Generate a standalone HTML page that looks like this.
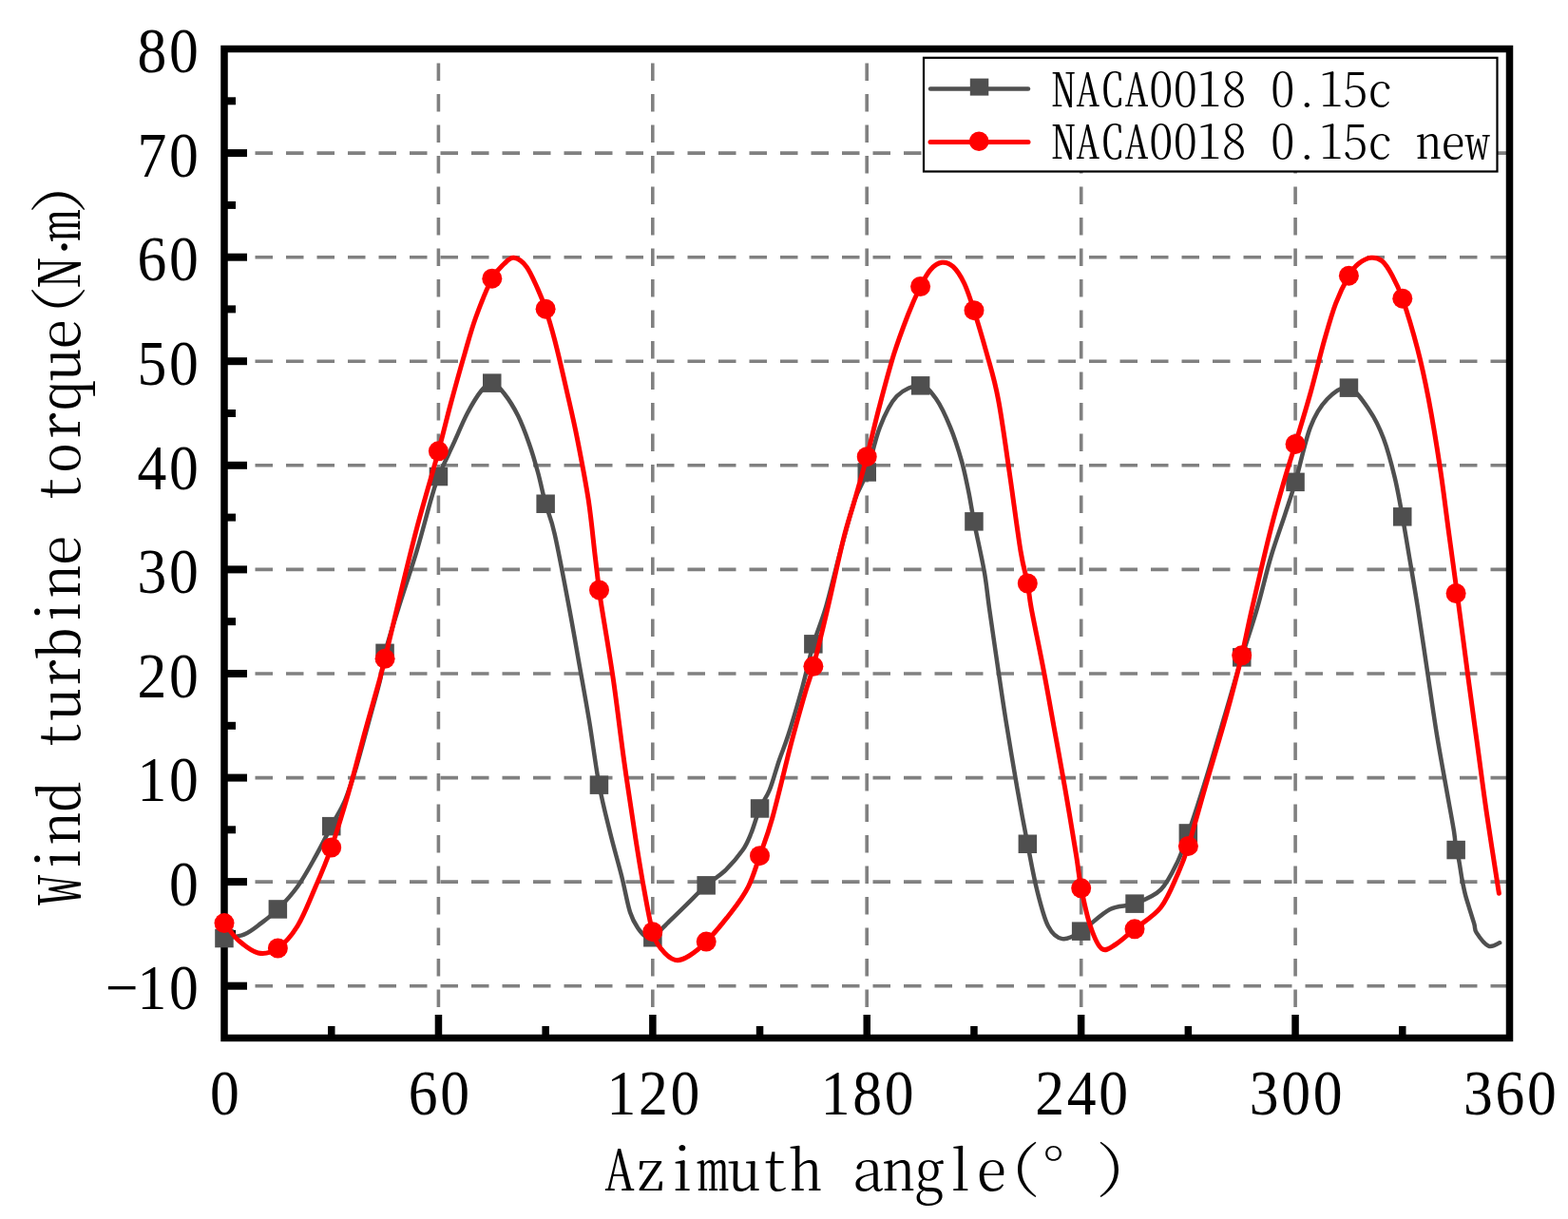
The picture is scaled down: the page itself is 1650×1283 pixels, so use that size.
<!DOCTYPE html>
<html><head><meta charset="utf-8"><title>Wind turbine torque</title>
<style>html,body{margin:0;padding:0;background:#fff;overflow:hidden}svg{display:block}
.cjk{font-family:"Noto Serif CJK SC","Liberation Serif",serif;font-feature-settings:"hwid" 1;font-weight:300}
.num{font-family:"Liberation Serif",serif}</style></head><body>
<svg width="1650" height="1283" viewBox="0 0 1650 1283">
<rect width="1650" height="1283" fill="#fff"/>
<g stroke="#808080" stroke-width="3.6" stroke-dasharray="18.5 14" fill="none">
<line x1="236.0" y1="161.1" x2="1588.5" y2="161.1"/>
<line x1="236.0" y1="270.7" x2="1588.5" y2="270.7"/>
<line x1="236.0" y1="380.2" x2="1588.5" y2="380.2"/>
<line x1="236.0" y1="489.8" x2="1588.5" y2="489.8"/>
<line x1="236.0" y1="599.4" x2="1588.5" y2="599.4"/>
<line x1="236.0" y1="709.0" x2="1588.5" y2="709.0"/>
<line x1="236.0" y1="818.6" x2="1588.5" y2="818.6"/>
<line x1="236.0" y1="928.1" x2="1588.5" y2="928.1"/>
<line x1="236.0" y1="1037.7" x2="1588.5" y2="1037.7"/>
<line x1="461.4" y1="1092.5" x2="461.4" y2="51.5"/>
<line x1="686.8" y1="1092.5" x2="686.8" y2="51.5"/>
<line x1="912.2" y1="1092.5" x2="912.2" y2="51.5"/>
<line x1="1137.7" y1="1092.5" x2="1137.7" y2="51.5"/>
<line x1="1363.1" y1="1092.5" x2="1363.1" y2="51.5"/>
</g>
<g fill="#000">
<rect x="236" y="157.1" width="24" height="8"/>
<rect x="236" y="266.7" width="24" height="8"/>
<rect x="236" y="376.2" width="24" height="8"/>
<rect x="236" y="485.8" width="24" height="8"/>
<rect x="236" y="595.4" width="24" height="8"/>
<rect x="236" y="705.0" width="24" height="8"/>
<rect x="236" y="814.6" width="24" height="8"/>
<rect x="236" y="924.1" width="24" height="8"/>
<rect x="236" y="1033.7" width="24" height="8"/>
<rect x="236" y="102.3" width="12" height="8"/>
<rect x="236" y="211.9" width="12" height="8"/>
<rect x="236" y="321.4" width="12" height="8"/>
<rect x="236" y="431.0" width="12" height="8"/>
<rect x="236" y="540.6" width="12" height="8"/>
<rect x="236" y="650.2" width="12" height="8"/>
<rect x="236" y="759.8" width="12" height="8"/>
<rect x="236" y="869.3" width="12" height="8"/>
<rect x="236" y="978.9" width="12" height="8"/>
<rect x="457.7" y="1068" width="7.5" height="26"/>
<rect x="683.1" y="1068" width="7.5" height="26"/>
<rect x="908.5" y="1068" width="7.5" height="26"/>
<rect x="1133.9" y="1068" width="7.5" height="26"/>
<rect x="1359.3" y="1068" width="7.5" height="26"/>
<rect x="345.0" y="1080" width="7.5" height="14"/>
<rect x="570.4" y="1080" width="7.5" height="14"/>
<rect x="795.8" y="1080" width="7.5" height="14"/>
<rect x="1021.2" y="1080" width="7.5" height="14"/>
<rect x="1246.6" y="1080" width="7.5" height="14"/>
<rect x="1472.0" y="1080" width="7.5" height="14"/>
</g>
<rect x="236.0" y="51.5" width="1352.5" height="1041.0" fill="none" stroke="#000" stroke-width="7.5"/>
<path d="M236.0,987.5 C239.4,986.9 250.3,986.3 256.7,983.7 C263.1,981.1 268.6,976.4 274.5,971.9 C280.4,967.4 286.0,963.4 292.4,957.0 C298.8,950.6 306.6,942.2 313.0,933.3 C319.4,924.4 324.9,914.3 330.8,903.7 C336.8,893.1 343.3,880.0 348.7,869.6 C354.1,859.2 359.0,852.1 363.4,841.5 C367.8,830.9 370.9,820.8 375.3,806.0 C379.7,791.2 385.8,767.9 390.0,752.6 C394.2,737.3 397.9,724.9 400.4,714.0 C402.9,703.1 402.0,699.7 405.1,687.4 C408.2,675.1 413.7,657.9 419.3,640.0 C424.9,622.1 432.8,598.9 438.5,580.0 C444.2,561.1 449.5,539.8 453.3,526.7 C457.1,513.6 457.4,511.4 461.4,501.5 C465.3,491.6 471.9,478.5 477.0,467.4 C482.1,456.3 486.9,444.2 491.9,434.8 C496.8,425.4 502.4,416.3 506.7,411.0 C511.0,405.7 513.8,402.6 517.8,403.1 C521.8,403.6 525.8,408.2 530.4,414.0 C535.0,419.8 540.8,428.9 545.2,437.8 C549.6,446.7 553.5,457.5 557.0,467.4 C560.5,477.3 563.1,486.5 566.0,497.0 C568.9,507.5 571.1,519.3 574.1,530.2 C577.1,541.1 579.6,543.9 583.7,562.2 C587.9,580.5 594.7,617.1 599.0,640.0 C603.3,662.9 606.1,679.5 609.6,699.3 C613.1,719.0 616.5,737.4 620.0,758.5 C623.5,779.6 626.8,806.4 630.5,826.1 C634.2,845.9 638.3,861.1 642.2,877.0 C646.1,892.9 650.5,907.7 654.0,921.5 C657.5,935.3 660.0,950.6 663.0,960.0 C666.0,969.4 668.9,973.3 671.9,977.8 C674.9,982.2 678.2,985.2 680.7,986.7 C683.2,988.2 682.8,989.6 686.8,986.7 C690.8,983.9 698.5,975.3 704.4,969.6 C710.3,963.9 715.7,958.6 722.2,952.3 C728.7,946.0 736.3,938.0 743.2,931.9 C750.1,925.8 757.3,921.8 763.7,915.6 C770.1,909.4 777.0,901.2 781.5,894.8 C786.0,888.4 787.4,884.3 790.4,877.0 C793.4,869.7 796.2,858.7 799.5,851.0 C802.8,843.3 806.6,839.5 810.0,831.0 C813.4,822.5 816.7,809.6 820.0,800.0 C823.3,790.4 825.5,786.1 829.6,773.3 C833.7,760.5 840.0,738.9 844.4,723.0 C848.8,707.1 851.8,691.7 855.9,677.9 C860.0,664.1 864.0,656.3 868.8,640.0 C873.5,623.7 879.3,598.9 884.4,580.0 C889.5,561.1 894.7,540.5 899.3,526.7 C903.9,512.9 907.8,509.9 912.2,497.0 C916.6,484.1 920.6,462.9 925.9,449.6 C931.1,436.3 936.6,424.3 943.7,417.0 C950.8,409.7 961.7,405.3 968.6,405.8 C975.5,406.3 980.0,412.7 985.2,420.0 C990.4,427.3 995.5,438.7 1000.0,449.6 C1004.5,460.5 1008.7,473.8 1011.9,485.2 C1015.1,496.6 1017.1,507.2 1019.3,517.8 C1021.5,528.4 1022.2,535.1 1024.9,548.9 C1027.6,562.7 1032.9,585.5 1035.6,600.7 C1038.3,615.9 1038.7,623.6 1041.0,640.0 C1043.3,656.4 1046.7,679.5 1049.6,699.3 C1052.5,719.0 1055.0,736.8 1058.5,758.5 C1062.0,780.2 1066.6,808.0 1070.4,829.6 C1074.2,851.2 1077.8,870.5 1081.3,888.3 C1084.8,906.1 1087.5,921.9 1091.1,936.3 C1094.7,950.7 1098.5,966.2 1103.0,974.8 C1107.5,983.4 1112.0,987.2 1117.8,988.1 C1123.6,989.0 1129.3,985.3 1137.7,980.1 C1146.1,974.9 1158.7,961.8 1168.1,957.0 C1177.5,952.2 1185.1,954.6 1194.0,951.1 C1202.9,947.6 1214.0,943.7 1221.5,936.3 C1229.0,928.9 1234.5,916.6 1239.3,906.7 C1244.1,896.8 1245.4,891.8 1250.4,877.0 C1255.5,862.2 1262.4,841.0 1269.6,817.8 C1276.8,794.6 1287.1,758.8 1293.3,737.8 C1299.5,716.8 1301.8,708.2 1306.7,691.9 C1311.7,675.6 1317.9,657.6 1323.0,640.0 C1328.1,622.4 1332.5,602.4 1337.4,586.0 C1342.3,569.6 1347.9,554.6 1352.2,541.5 C1356.5,528.4 1358.6,522.7 1363.1,507.4 C1367.5,492.1 1373.3,464.2 1378.9,449.6 C1384.5,435.0 1390.0,426.9 1396.7,420.0 C1403.5,413.1 1412.0,406.1 1419.4,408.1 C1426.8,410.1 1435.0,423.0 1441.1,431.9 C1447.2,440.8 1451.5,449.6 1455.9,461.5 C1460.4,473.4 1464.5,489.3 1467.8,503.0 C1471.1,516.7 1473.3,530.1 1475.8,543.9 C1478.3,557.7 1480.3,570.0 1483.0,586.0 C1485.7,602.0 1488.8,619.7 1492.0,640.0 C1495.2,660.3 1498.9,685.8 1502.2,708.0 C1505.5,730.2 1508.7,753.2 1512.0,773.4 C1515.3,793.6 1518.8,812.1 1521.8,829.0 C1524.8,845.9 1528.3,864.0 1530.0,874.9 C1531.7,885.8 1531.3,889.6 1532.1,894.5 C1532.9,899.4 1533.9,899.2 1535.0,904.4 C1536.1,909.6 1537.3,919.2 1538.5,925.5 C1539.7,931.8 1540.8,937.2 1542.0,941.9 C1543.2,946.6 1544.0,948.5 1545.5,953.6 C1547.0,958.7 1549.9,967.6 1551.3,972.3 C1552.7,977.0 1551.2,977.7 1553.7,981.6 C1556.2,985.5 1562.4,993.9 1566.5,995.7 C1570.6,997.5 1576.2,992.8 1578.2,992.2" fill="none" stroke="#4f4f4f" stroke-width="4.5" stroke-linejoin="round" stroke-linecap="round"/>
<g fill="#4f4f4f">
<rect x="226.2" y="977.8" width="19.5" height="19.5"/>
<rect x="282.6" y="947.2" width="19.5" height="19.5"/>
<rect x="339.0" y="859.9" width="19.5" height="19.5"/>
<rect x="395.3" y="677.6" width="19.5" height="19.5"/>
<rect x="451.7" y="491.8" width="19.5" height="19.5"/>
<rect x="508.0" y="393.4" width="19.5" height="19.5"/>
<rect x="564.4" y="520.5" width="19.5" height="19.5"/>
<rect x="620.7" y="816.4" width="19.5" height="19.5"/>
<rect x="677.1" y="977.0" width="19.5" height="19.5"/>
<rect x="733.4" y="922.1" width="19.5" height="19.5"/>
<rect x="789.8" y="841.2" width="19.5" height="19.5"/>
<rect x="846.1" y="668.1" width="19.5" height="19.5"/>
<rect x="902.5" y="487.2" width="19.5" height="19.5"/>
<rect x="958.9" y="396.1" width="19.5" height="19.5"/>
<rect x="1015.2" y="539.1" width="19.5" height="19.5"/>
<rect x="1071.6" y="878.5" width="19.5" height="19.5"/>
<rect x="1127.9" y="970.4" width="19.5" height="19.5"/>
<rect x="1184.3" y="941.4" width="19.5" height="19.5"/>
<rect x="1240.6" y="867.2" width="19.5" height="19.5"/>
<rect x="1297.0" y="682.1" width="19.5" height="19.5"/>
<rect x="1353.3" y="497.6" width="19.5" height="19.5"/>
<rect x="1409.7" y="398.4" width="19.5" height="19.5"/>
<rect x="1466.0" y="534.1" width="19.5" height="19.5"/>
<rect x="1522.4" y="884.8" width="19.5" height="19.5"/>
</g>
<path d="M236.0,971.6 C238.5,974.6 244.9,984.4 250.8,989.6 C256.7,994.8 264.7,1001.6 271.6,1003.0 C278.5,1004.4 285.5,1002.7 292.4,998.0 C299.3,993.3 306.6,985.1 313.0,974.8 C319.4,964.5 324.9,950.1 330.8,936.3 C336.8,922.5 342.8,908.8 348.7,892.0 C354.6,875.2 360.5,855.9 366.4,835.6 C372.3,815.3 378.6,790.2 384.0,770.4 C389.4,750.6 395.5,729.9 399.0,717.0 C402.5,704.1 402.0,706.1 405.1,693.3 C408.2,680.5 412.2,662.8 417.8,640.0 C423.4,617.2 431.2,583.8 438.5,556.3 C445.8,528.8 455.5,496.5 461.4,474.8 C467.3,453.1 469.4,443.0 474.0,426.0 C478.6,409.0 484.4,387.9 488.9,372.6 C493.3,357.3 495.9,347.2 500.7,334.0 C505.5,320.8 512.8,302.6 517.8,293.2 C522.8,283.8 526.6,281.4 530.4,277.8 C534.2,274.2 536.8,270.8 540.7,271.3 C544.6,271.8 549.8,275.2 554.0,280.7 C558.2,286.2 562.6,297.0 566.0,304.4 C569.4,311.8 571.1,316.3 574.1,325.2 C577.1,334.1 580.1,344.0 583.7,357.8 C587.3,371.6 591.7,390.7 595.6,408.0 C599.5,425.3 603.5,441.7 607.4,461.5 C611.3,481.3 616.1,506.0 619.3,526.7 C622.4,547.5 624.4,570.3 626.3,586.0 C628.2,601.7 629.3,611.9 630.5,620.9 C631.7,629.9 630.8,624.5 633.3,640.0 C635.8,655.5 641.2,686.8 645.2,714.0 C649.2,741.2 653.0,774.8 657.0,803.0 C661.0,831.2 665.4,860.8 668.9,883.0 C672.4,905.2 674.8,920.0 677.8,936.3 C680.8,952.6 683.8,970.3 686.8,980.7 C689.8,991.1 691.7,993.5 695.6,998.5 C699.5,1003.5 705.5,1009.1 710.4,1010.4 C715.3,1011.6 719.7,1009.2 725.2,1006.0 C730.7,1002.8 735.8,998.8 743.2,991.1 C750.6,983.4 762.2,969.6 769.6,960.0 C777.0,950.4 782.4,943.2 787.4,933.3 C792.4,923.4 795.2,912.9 799.5,900.7 C803.8,888.5 807.5,879.8 813.0,860.0 C818.5,840.2 826.9,804.1 832.6,782.2 C838.3,760.4 843.5,742.4 847.4,728.9 C851.3,715.4 852.0,716.1 855.9,701.3 C859.8,686.5 865.8,662.2 871.0,640.0 C876.2,617.8 882.7,586.9 887.4,568.0 C892.1,549.1 895.2,541.2 899.3,526.7 C903.4,512.2 907.8,497.5 912.2,480.7 C916.6,463.9 921.1,444.0 925.9,426.0 C930.6,408.0 935.8,388.4 940.7,372.6 C945.7,356.8 951.0,342.9 955.6,331.0 C960.2,319.1 964.7,309.4 968.6,301.5 C972.5,293.6 975.5,287.9 979.3,283.7 C983.0,279.5 987.1,276.8 991.1,276.3 C995.1,275.8 999.0,277.0 1003.0,280.7 C1007.0,284.4 1011.1,290.8 1014.8,298.5 C1018.4,306.2 1021.0,314.3 1024.9,326.7 C1028.9,339.1 1034.2,357.1 1038.5,372.6 C1042.8,388.2 1046.5,399.3 1050.4,420.0 C1054.4,440.7 1058.3,470.3 1062.2,497.0 C1066.1,523.7 1070.8,560.5 1074.0,580.0 C1077.2,599.5 1079.4,604.0 1081.3,614.0 C1083.2,624.0 1082.6,625.8 1085.2,640.0 C1087.8,654.2 1093.0,678.6 1097.0,699.3 C1101.0,720.0 1105.0,742.7 1108.9,764.4 C1112.9,786.1 1116.8,806.9 1120.7,829.6 C1124.7,852.3 1129.8,883.2 1132.6,900.7 C1135.4,918.2 1135.2,922.4 1137.7,934.8 C1140.2,947.1 1143.8,964.2 1147.4,974.8 C1151.0,985.4 1154.9,995.3 1159.3,998.5 C1163.7,1001.7 1168.2,997.5 1174.0,994.0 C1179.8,990.5 1186.1,984.3 1194.0,977.8 C1201.9,971.3 1214.0,964.6 1221.5,955.0 C1229.0,945.4 1234.5,930.8 1239.3,920.0 C1244.1,909.2 1245.4,906.4 1250.4,890.4 C1255.5,874.4 1262.9,846.7 1269.6,823.7 C1276.3,800.7 1284.2,774.9 1290.4,752.6 C1296.6,730.3 1302.2,708.6 1306.7,689.8 C1311.2,671.0 1312.5,662.2 1317.6,640.0 C1322.7,617.8 1331.6,579.1 1337.4,556.3 C1343.2,533.5 1347.9,517.8 1352.2,503.0 C1356.5,488.2 1358.6,482.2 1363.1,467.4 C1367.5,452.6 1373.8,432.3 1378.9,414.0 C1384.0,395.7 1389.2,373.6 1393.7,357.8 C1398.2,342.0 1401.3,330.6 1405.6,319.3 C1409.9,308.0 1415.5,297.1 1419.4,290.2 C1423.4,283.3 1425.4,280.9 1429.3,277.8 C1433.2,274.7 1438.4,271.8 1442.6,271.3 C1446.8,270.8 1450.7,271.8 1454.4,274.8 C1458.1,277.9 1461.2,283.0 1464.8,289.6 C1468.4,296.2 1471.3,301.4 1475.8,314.2 C1480.2,327.0 1486.9,349.1 1491.5,366.7 C1496.1,384.3 1499.3,399.3 1503.3,420.0 C1507.2,440.7 1511.8,468.4 1515.2,491.1 C1518.7,513.8 1521.0,534.1 1524.0,556.3 C1527.0,578.5 1529.8,598.7 1533.3,624.5 C1536.8,650.3 1541.2,684.8 1544.7,711.3 C1548.2,737.8 1551.2,759.2 1554.5,783.2 C1557.8,807.2 1560.5,829.0 1564.3,855.2 C1568.1,881.4 1575.2,926.1 1577.4,940.3" fill="none" stroke="#ff0000" stroke-width="5" stroke-linejoin="round" stroke-linecap="round"/>
<g fill="#ff0000">
<circle cx="236.0" cy="971.6" r="10.5"/>
<circle cx="292.4" cy="998.0" r="10.5"/>
<circle cx="348.7" cy="892.0" r="10.5"/>
<circle cx="405.1" cy="693.3" r="10.5"/>
<circle cx="461.4" cy="474.8" r="10.5"/>
<circle cx="517.8" cy="293.2" r="10.5"/>
<circle cx="574.1" cy="325.2" r="10.5"/>
<circle cx="630.5" cy="620.9" r="10.5"/>
<circle cx="686.8" cy="980.7" r="10.5"/>
<circle cx="743.2" cy="991.1" r="10.5"/>
<circle cx="799.5" cy="900.7" r="10.5"/>
<circle cx="855.9" cy="701.3" r="10.5"/>
<circle cx="912.2" cy="480.7" r="10.5"/>
<circle cx="968.6" cy="301.5" r="10.5"/>
<circle cx="1025.0" cy="326.7" r="10.5"/>
<circle cx="1081.3" cy="614.0" r="10.5"/>
<circle cx="1137.7" cy="934.8" r="10.5"/>
<circle cx="1194.0" cy="977.8" r="10.5"/>
<circle cx="1250.4" cy="890.4" r="10.5"/>
<circle cx="1306.7" cy="689.8" r="10.5"/>
<circle cx="1363.1" cy="467.4" r="10.5"/>
<circle cx="1419.4" cy="290.2" r="10.5"/>
<circle cx="1475.8" cy="314.2" r="10.5"/>
<circle cx="1532.1" cy="624.5" r="10.5"/>
</g>
<rect x="972" y="60.8" width="603.5" height="119.7" fill="#fff" stroke="#000" stroke-width="2.2"/>
<line x1="979" y1="93.5" x2="1082" y2="93.5" stroke="#4f4f4f" stroke-width="4.5" stroke-linecap="round"/>
<rect x="1020.8" y="82.6" width="19.5" height="18" fill="#4f4f4f"/>
<line x1="979" y1="149.5" x2="1082" y2="149.5" stroke="#ff0000" stroke-width="5" stroke-linecap="round"/>
<circle cx="1030.2" cy="148.8" r="10.3" fill="#ff0000"/>
<text class="cjk" transform="scale(1.0667,1)" x="1049.34 1073.34 1097.34 1121.34 1145.34 1169.34 1193.34 1217.34 1241.34 1265.34 1289.34 1313.34 1337.34 1361.34" y="111.6" font-size="48.0" text-anchor="middle" fill="#000">NACA0018 0.15c</text>
<text class="cjk" transform="scale(1.0667,1)" x="1049.34 1073.34 1097.34 1121.34 1145.34 1169.34 1193.34 1217.34 1241.34 1265.34 1289.34 1313.34 1337.34 1361.34 1385.34 1409.34 1433.34 1457.34" y="166.9" font-size="48.0" text-anchor="middle" fill="#000">NACA0018 0.15c new</text>
<text class="num" transform="scale(0.920,1)" x="173.80 210.22" y="76.3" font-size="67.0" text-anchor="middle" fill="#000">80</text>
<text class="num" transform="scale(0.920,1)" x="173.80 210.22" y="185.9" font-size="67.0" text-anchor="middle" fill="#000">70</text>
<text class="num" transform="scale(0.920,1)" x="173.80 210.22" y="295.5" font-size="67.0" text-anchor="middle" fill="#000">60</text>
<text class="num" transform="scale(0.920,1)" x="173.80 210.22" y="405.0" font-size="67.0" text-anchor="middle" fill="#000">50</text>
<text class="num" transform="scale(0.920,1)" x="173.80 210.22" y="514.6" font-size="67.0" text-anchor="middle" fill="#000">40</text>
<text class="num" transform="scale(0.920,1)" x="173.80 210.22" y="624.2" font-size="67.0" text-anchor="middle" fill="#000">30</text>
<text class="num" transform="scale(0.920,1)" x="173.80 210.22" y="733.8" font-size="67.0" text-anchor="middle" fill="#000">20</text>
<text class="num" transform="scale(0.920,1)" x="173.80 210.22" y="843.4" font-size="67.0" text-anchor="middle" fill="#000">10</text>
<text class="num" transform="scale(0.920,1)" x="210.22" y="952.9" font-size="67.0" text-anchor="middle" fill="#000">0</text>
<text class="num" transform="scale(0.920,1)" x="139.57 173.80 210.22" y="1062.5" font-size="67.0" text-anchor="middle" fill="#000">−10</text>
<text class="num" transform="scale(0.920,1)" x="257.07" y="1172.8" font-size="67.0" text-anchor="middle" fill="#000">0</text>
<text class="num" transform="scale(0.920,1)" x="483.88 520.29" y="1172.8" font-size="67.0" text-anchor="middle" fill="#000">60</text>
<text class="num" transform="scale(0.920,1)" x="710.69 747.10 783.51" y="1172.8" font-size="67.0" text-anchor="middle" fill="#000">120</text>
<text class="num" transform="scale(0.920,1)" x="955.71 992.12 1028.53" y="1172.8" font-size="67.0" text-anchor="middle" fill="#000">180</text>
<text class="num" transform="scale(0.920,1)" x="1200.72 1237.14 1273.55" y="1172.8" font-size="67.0" text-anchor="middle" fill="#000">240</text>
<text class="num" transform="scale(0.920,1)" x="1445.74 1482.16 1518.57" y="1172.8" font-size="67.0" text-anchor="middle" fill="#000">300</text>
<text class="num" transform="scale(0.920,1)" x="1690.76 1727.17 1763.59" y="1172.8" font-size="67.0" text-anchor="middle" fill="#000">360</text>
<text class="cjk" transform="scale(1.1107,1)" y="1253.5" font-size="58.7" text-anchor="middle" fill="#000"><tspan x="587.18 616.53 645.88 675.23 704.58 733.93 763.28 792.63 821.98 851.33 880.68 910.03 939.38">Azimuth angle</tspan><tspan x="970.62" y="1248.5" font-size="55.8">(</tspan><tspan x="998.08" y="1250.5">°</tspan><tspan x="1053.36" y="1248.5" font-size="55.8">)</tspan></text>
<text class="cjk" transform="rotate(-90) scale(1.1107,1)" y="84" font-size="58.7" text-anchor="middle" fill="#000"><tspan x="-843.59 -814.33 -785.07 -755.81 -726.55 -697.29 -668.03 -638.77 -609.51 -580.25 -550.99 -521.73 -492.47 -463.21 -433.95 -404.69 -375.43 -346.17 -316.91">Wind turbine torque</tspan><tspan x="-285.17" y="78" font-size="53.8">(</tspan><tspan x="-258.39" y="84" font-size="58.7">N</tspan><tspan x="-234.08" y="89">·</tspan><tspan x="-213.82" y="84">m</tspan><tspan x="-188.34" y="78" font-size="53.8">)</tspan></text>
</svg>
</body></html>
